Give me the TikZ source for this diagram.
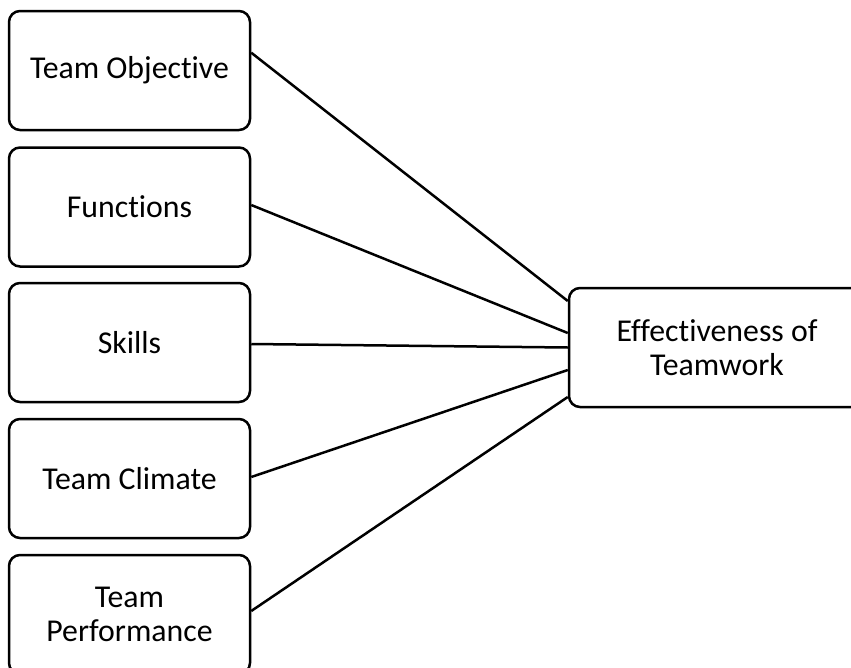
\documentclass[tikz,border=0pt]{standalone}
\usepackage{fontspec}
\setmainfont{Carlito}[Ligatures={NoCommon}]
\usetikzlibrary{calc}
\begin{document}
\begin{tikzpicture}[x=1pt,y=-1pt,
  box/.style={draw=black,line width=2.5pt,rounded corners=11pt,minimum width=241pt,minimum height=119pt,inner sep=0pt,align=center,font=\fontsize{31.8}{34}\selectfont},
  conn/.style={draw=black,line width=2.5pt}]
\useasboundingbox (0,0) rectangle (851,667);
\node[box] (b1) at (129.5,70.5) {Team Objective};
\node[box] (b2) at (129.5,207) {Functions};
\node[box] (b3) at (129.5,342.5) {Skills};
\node[box] (b4) at (129.5,478.5) {Team Climate};
\node[box] (b5) at (129.5,614.5) {Team\\[-0.5pt]Performance};
\node[box,minimum width=296pt] (e) at (717,347.5) {Effectiveness of\\Teamwork};
\draw[conn] ([yshift=17.8pt]b1.east) -- ([yshift=46.5pt]e.west);
\draw[conn] ([yshift=2pt]b2.east) -- ([yshift=14.5pt]e.west);
\draw[conn] ([yshift=-1.5pt]b3.east) -- ([yshift=0pt]e.west);
\draw[conn] ([yshift=1.5pt]b4.east) -- ([yshift=-22.5pt]e.west);
\draw[conn] ([yshift=3.5pt]b5.east) -- ([yshift=-49.5pt]e.west);
\end{tikzpicture}
\end{document}
